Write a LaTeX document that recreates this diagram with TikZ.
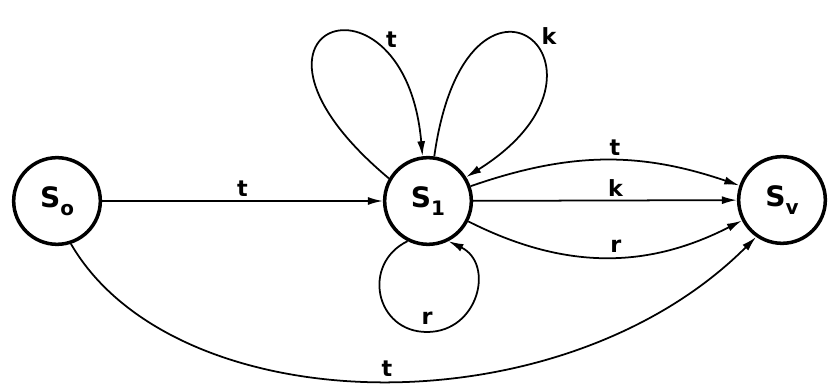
\documentclass[tikz,border=0pt]{standalone}
\usepackage{fontspec}
\setmainfont{DejaVu Sans}
\usetikzlibrary{arrows.meta}

\newcommand{\statename}[2]{\fontsize{24}{28}\selectfont\bfseries #1\raisebox{-0.3em}{\fontsize{17}{20}\selectfont #2}}

\begin{document}
\begin{tikzpicture}[x=0.03cm,y=0.03cm,
    state/.style={circle, draw, line width=3pt, minimum size=2.6cm, inner sep=0pt},
    trans/.style={line width=1.5pt, -{Latex[length=0.45cm,width=0.24cm]}},
    lbl/.style={font=\fontsize{19}{22}\selectfont\bfseries, inner sep=3pt}]
  \useasboundingbox (0,0) rectangle (828,388);
  % states
  \node[state] (s0) at (57,187) {\statename{S}{o}};
  \node[state] (s1) at (428,187) {\statename{S}{1}};
  \node[state] (sv) at (782,188) {\statename{S}{v}};
  \coordinate (rloop) at (427,56);
  % transitions
  \draw[trans] (s0) -- node[lbl, above] {t} (s1);
  \draw[trans] (s1) -- node[lbl, above, pos=0.54] {k} (sv);
  \draw[trans] (s1) to[bend left=19] node[lbl, above, pos=0.54] {t} (sv);
  \draw[trans] (s1) to[bend right=27] node[lbl, above, pos=0.54] {r} (sv);
  \draw[trans] (s0.-72) .. controls (175,-35) and (560,-45) .. node[lbl, above, pos=0.51] {t} (sv.-125);
  % loops on s1
  \draw[trans] (s1.150) to[out=140, in=95, out distance=7.2cm, in distance=6cm] node[lbl, pos=0.74, above right] {t} (s1.97);
  \draw[trans] (s1.82) to[out=82, in=32, out distance=7cm, in distance=6.2cm] node[lbl, pos=0.53, right, xshift=4pt, yshift=6pt] {k} (s1.32);
  \draw[trans] (s1.-117) to[out=-154, in=180, distance=1.55cm] (rloop) node[lbl, above, inner sep=6pt] {r}
    to[out=0, in=-26, distance=1.55cm] (s1.-63);
\end{tikzpicture}
\end{document}
